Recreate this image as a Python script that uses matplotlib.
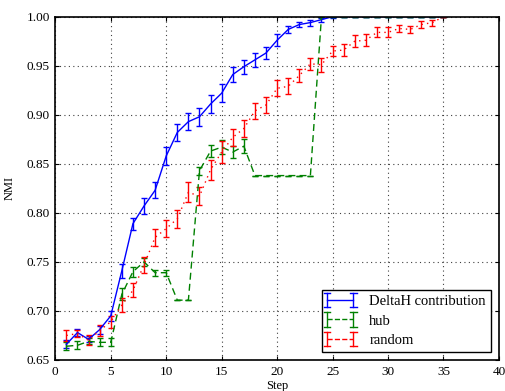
import matplotlib
matplotlib.use("Agg")
import matplotlib.pyplot as plt
from matplotlib.legend_handler import HandlerBase
from matplotlib.lines import Line2D
import numpy as np

steps_delta = list(range(1, 36))
nmi_delta = [0.666, 0.678, 0.671, 0.681, 0.695, 0.741, 0.789, 0.807, 0.823, 0.858,
             0.882, 0.893, 0.898, 0.911, 0.922, 0.941, 0.949, 0.956, 0.963, 0.976,
             0.987, 0.992, 0.994, 0.997, 1.000, 1.0, 1.0, 1.0, 1.0, 1.0,
             1.0, 1.0, 1.0, 1.0, 1.0]
err_delta = [0.004, 0.004, 0.003, 0.004, 0.005, 0.007, 0.006, 0.008, 0.008, 0.009,
             0.009, 0.009, 0.009, 0.009, 0.009, 0.008, 0.007, 0.007, 0.006, 0.006,
             0.004, 0.003, 0.003, 0.002, 0.001, 0, 0, 0, 0, 0,
             0, 0, 0, 0, 0]

steps_hub = list(range(1, 36))
nmi_hub = [0.664, 0.665, 0.669, 0.668, 0.668, 0.717, 0.740, 0.750, 0.739, 0.739,
           0.711, 0.711, 0.843, 0.863, 0.867, 0.862, 0.868, 0.838, 0.838, 0.838,
           0.838, 0.838, 0.838, 1.000, 1.0, 1.0, 1.0, 1.0, 1.0, 1.0,
           1.0, 1.0, 1.0, 1.0, 1.0]
err_hub = [0.004, 0.004, 0.003, 0.004, 0.004, 0.006, 0.005, 0.004, 0.003, 0.003,
           0, 0, 0.004, 0.006, 0.007, 0.006, 0.007, 0, 0, 0,
           0, 0, 0, 0, 0, 0, 0, 0, 0, 0,
           0, 0, 0, 0, 0]

steps_rand = list(range(1, 36))
nmi_rand = [0.675, 0.677, 0.670, 0.680, 0.689, 0.706, 0.721, 0.747, 0.775, 0.784,
            0.794, 0.821, 0.817, 0.844, 0.862, 0.877, 0.886, 0.904, 0.910, 0.927,
            0.929, 0.940, 0.952, 0.951, 0.965, 0.966, 0.975, 0.976, 0.984, 0.984,
            0.988, 0.987, 0.992, 0.994, 1.000]
err_rand = [0.006, 0.004, 0.005, 0.006, 0.006, 0.007, 0.007, 0.008, 0.009, 0.009,
            0.009, 0.010, 0.009, 0.010, 0.011, 0.009, 0.009, 0.008, 0.008, 0.008,
            0.008, 0.007, 0.006, 0.007, 0.005, 0.006, 0.006, 0.006, 0.005, 0.005,
            0.004, 0.004, 0.004, 0.003, 0.0]

labels = ['DeltaH contribution', 'hub', 'random']
xticks = [0, 5, 10, 15, 20, 25, 30, 35, 40]
yticks = [0.65, 0.70, 0.75, 0.80, 0.85, 0.90, 0.95, 1.00]

plt.rcParams['font.family'] = ['Liberation Serif', 'DejaVu Serif']

fig = plt.figure(figsize=(5.06, 3.91), dpi=100)
ax = fig.add_axes([0.1093, 0.0793, 0.8767, 0.8780])

styles = [dict(color=(0, 0, 1), ls='-'),
          dict(color=(0, 0.5, 0), ls=(0, (5, 3))),
          dict(color=(1, 0, 0), ls=(0, (1, 3)))]
series = [(steps_delta, nmi_delta, err_delta),
          (steps_hub, nmi_hub, err_hub),
          (steps_rand, nmi_rand, err_rand)]
handles = []
for (xs, ys, es), st, lab in zip(series, styles, labels):
    ax.errorbar(xs, ys, yerr=es, color=st['color'], lw=1.0, ls=st['ls'],
                elinewidth=1.0, capsize=2.5, capthick=1.0)
    handles.append(Line2D([], [], color=st['color'], ls=st['ls'], lw=1.0))


class HBarHandler(HandlerBase):
    def create_artists(self, legend, orig_handle, xdescent, ydescent, width,
                       height, fontsize, trans):
        c = orig_handle.get_color()
        yc = height / 2 - ydescent
        x0, x1 = -xdescent, -xdescent + width
        hh = height * 0.7
        arts = [Line2D([x0, x1], [yc, yc], color=c, lw=1.0,
                       linestyle=orig_handle.get_linestyle(), transform=trans)]
        for xe in (x0, x1):
            arts.append(Line2D([xe, xe], [yc - hh, yc + hh], color=c, lw=1.0,
                               transform=trans))
            for yy in (yc - hh, yc + hh):
                arts.append(Line2D([xe - 2.5, xe + 2.5], [yy, yy], color=c,
                                   lw=1.0, transform=trans))
        return arts


ax.set_xlim(0, 40)
ax.set_ylim(0.65, 1.00)
ax.set_xticks(xticks)
ax.set_yticks(yticks)
ax.set_xticklabels([str(t) for t in xticks])
ax.set_yticklabels(['%.2f' % t for t in yticks])
ax.tick_params(direction='in', top=True, right=True, labelsize=9.5, length=3, pad=4)
ax.grid(True, color='0.25', ls=(0, (1, 3)), lw=0.8)
for s in ax.spines.values():
    s.set_linewidth(1.2)

ax.set_xlabel('Step', fontsize=9, labelpad=2)
ax.set_ylabel('NMI', fontsize=9, labelpad=8)

leg = ax.legend(handles, labels, loc='lower right', fontsize=10.5, frameon=True,
                fancybox=False, edgecolor='black', framealpha=1, borderpad=0.35,
                handlelength=1.8, handletextpad=1.1, labelspacing=0.42,
                borderaxespad=0.55,
                handler_map={Line2D: HBarHandler()})
leg.get_frame().set_linewidth(1.0)

fig.savefig('out.png', dpi=100)
